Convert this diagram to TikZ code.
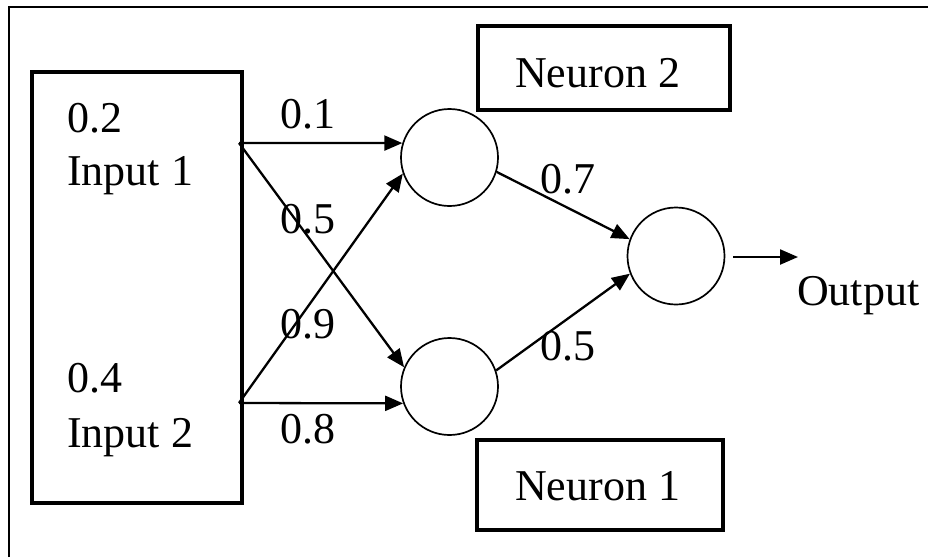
\documentclass[tikz,border=0pt]{standalone}
\usepackage{fontspec}
\setmainfont{Liberation Serif}
\usetikzlibrary{arrows.meta}
\tikzset{
  txt/.style={anchor=base west, inner sep=0pt, font=\fontsize{44}{52}\selectfont},
  neuron/.style={circle, draw, line width=1.7pt, minimum size=97pt, inner sep=0pt},
  conn/.style={line width=2.3pt, -{Triangle[length=18pt,width=15pt]}},
  thickbox/.style={draw, line width=3.6pt},
  frame/.style={line width=2.4pt}
}
\begin{document}
\begin{tikzpicture}[x=1pt, y=-1pt]
\useasboundingbox (0,0) rectangle (928,557);
% outer frame (left and top only)
\draw[frame] (9,557) -- (9,7) -- (928,7);
% input box
\draw[thickbox] (32,72) rectangle (242,503);
\node[txt] (v1) at (67,132) {0.2};
\node[txt] (i1) at (67,185) {Input 1};
\node[txt] (v2) at (67,392) {0.4};
\node[txt] (i2) at (67,447) {Input 2};
% neuron label boxes
\draw[thickbox] (478,26) rectangle (730,110);
\node[txt] (lab2) at (515,87) {Neuron 2};
\draw[thickbox] (477,440) rectangle (723,530);
\node[txt] (lab1) at (515,500) {Neuron 1};
% neurons
\node[neuron] (n2) at (449.5,157.5) {};
\node[neuron] (n1) at (449.5,386.5) {};
\node[neuron] (out) at (676,256) {};
% connector start points
\coordinate (in1) at (239,143);
\coordinate (in2) at (239,403);
\coordinate (os) at (733,257);
\coordinate (oe) at (798,257);
% connectors
\draw[conn] (in1) -- (n2.163);
\draw[conn] (in1) -- (n1.157);
\draw[conn] (in2) -- (n2.199);
\draw[conn] (in2) -- (n1.200);
\draw[conn] (n2.-17) -- (out.160);
\draw[conn] (n1.19) -- (out.201);
\draw[conn] (os) -- (oe);
% weight labels
\node[txt] (w1) at (280,128) {0.1};
\node[txt] (w2) at (280,233) {0.5};
\node[txt] (w3) at (280,338) {0.9};
\node[txt] (w4) at (280,443) {0.8};
\node[txt] (w5) at (540,193) {0.7};
\node[txt] (w6) at (540,360) {0.5};
\node[txt] (o) at (797,305) {Output};
\end{tikzpicture}
\end{document}
